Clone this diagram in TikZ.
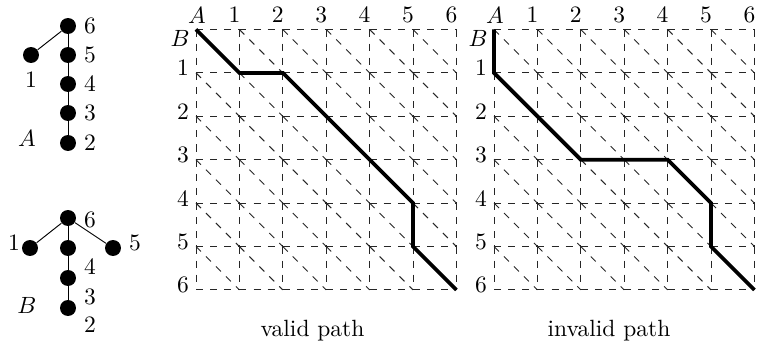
\documentclass[tikz,border=0pt]{standalone}
\begin{document}
\begin{tikzpicture}[x=0.4255pt,y=-0.4255pt,
  vert/.style={circle,fill=black,inner sep=0pt,minimum size=6.8pt},
  edge/.style={line width=0.4pt},
  gridline/.style={dashed,line width=0.4pt,black!85},
  route/.style={line width=1.6pt,line join=miter},
  lab/.style={inner sep=0pt}]
\useasboundingbox (0,0) rectangle (762,348);
% ---- tree A
\node[vert] (a6) at (68,26) {};
\node[vert] (a5) at (68,55) {};
\node[vert] (a4) at (68,84) {};
\node[vert] (a3) at (68,113) {};
\node[vert] (a2) at (68,143) {};
\node[vert] (a1) at (31,55) {};
\draw[edge] (a6) -- (a1);
\draw[edge] (a6) -- (a5) -- (a4) -- (a3) -- (a2);
\node[lab] (la6) at (90,26) {6};
\node[lab] (la5) at (90,55) {5};
\node[lab] (la4) at (90,84) {4};
\node[lab] (la3) at (90,113) {3};
\node[lab] (la2) at (90,143) {2};
\node[lab] (la1) at (31,80) {1};
\node[lab] (lA) at (27,138) {$A$};
% ---- tree B
\node[vert] (b6) at (68,218) {};
\node[vert] (b1) at (30,248) {};
\node[vert] (b4) at (68,248) {};
\node[vert] (b5) at (113,248) {};
\node[vert] (b3) at (68,278) {};
\node[vert] (b2) at (68,308) {};
\draw[edge] (b6) -- (b1);
\draw[edge] (b6) -- (b5);
\draw[edge] (b6) -- (b4) -- (b3) -- (b2);
\node[lab] (lb6) at (90,220) {6};
\node[lab] (lb1) at (14,243) {1};
\node[lab] (lb5) at (135,243) {5};
\node[lab] (lb4) at (90,267) {4};
\node[lab] (lb3) at (90,297) {3};
\node[lab] (lb2) at (90,325) {2};
\node[lab] (lB) at (27,305) {$B$};
% ---- grids
\def\cs{43.4}
\foreach \g/\ox in {1/196,2/494}{
  \foreach \i in {0,...,6}{
    \foreach \j in {0,...,6}{
      \coordinate (g\g-\i-\j) at ({\ox+\i*\cs},{29.5+\j*\cs});
    }
  }
  \foreach \i in {0,...,5}{
    \foreach \j in {0,...,5}{
      \draw[gridline] ({\ox+\i*\cs},{29.5+\j*\cs}) -- ++(\cs,0);
      \draw[gridline] ({\ox+\i*\cs},{29.5+\j*\cs}) -- ++(0,\cs);
      \draw[gridline] ({\ox+\i*\cs},{29.5+\j*\cs}) -- ++(\cs,\cs);
    }
    \draw[gridline] ({\ox+\i*\cs},{29.5+6*\cs}) -- ++(\cs,0);
    \draw[gridline] ({\ox+6*\cs},{29.5+\i*\cs}) -- ++(0,\cs);
  }
  \node[lab] (c\g-A) at ({\ox+1},15) {$A$};
  \foreach \i in {1,...,6}{
    \node[lab] (c\g-\i) at ({\ox+\i*\cs-5},15) {\i};
    \node[lab] (r\g-\i) at ({\ox-13},{29.5+\i*\cs-5}) {\i};
  }
  \node[lab] (r\g-B) at ({\ox-16},38) {$B$};
}
\draw[route] (g1-0-0) -- (g1-1-1) -- (g1-2-1) -- (g1-5-4) -- (g1-5-5) -- (g1-6-6);
\draw[route] (g2-0-0) -- (g2-0-1) -- (g2-2-3) -- (g2-4-3) -- (g2-5-4) -- (g2-5-5) -- (g2-6-6);
\node[lab] (cap1) at (312.5,331) {valid path};
\node[lab] (cap2) at (609,331) {invalid path};
\end{tikzpicture}
\end{document}
